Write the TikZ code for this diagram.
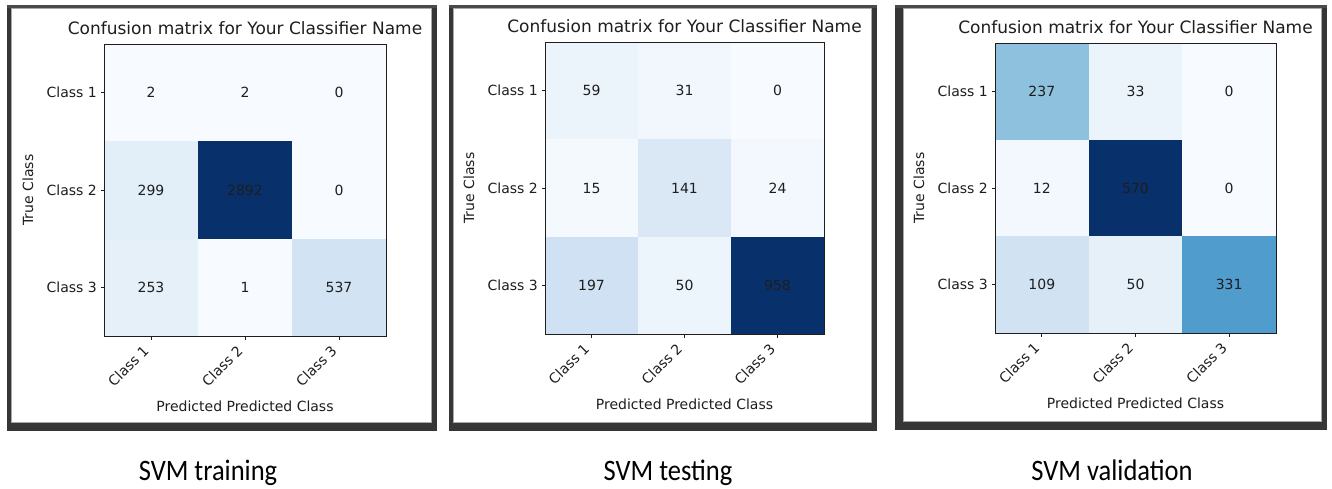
\documentclass[tikz,border=0pt]{standalone}
\usepackage{fontspec}
\setmainfont{DejaVu Sans}
\newfontfamily\capfont{Carlito}

% Blues colour scale used for the cells
\definecolor{bw}{HTML}{F7FBFF}
\definecolor{bdark}{HTML}{08306B}
% training
\definecolor{a11}{HTML}{F7FBFF}\definecolor{a12}{HTML}{F7FBFF}\definecolor{a13}{HTML}{F7FBFF}
\definecolor{a21}{HTML}{E2EEF8}\definecolor{a22}{HTML}{08306B}\definecolor{a23}{HTML}{F7FBFF}
\definecolor{a31}{HTML}{E6F0F9}\definecolor{a32}{HTML}{F7FBFF}\definecolor{a33}{HTML}{D2E3F3}
% testing
\definecolor{b11}{HTML}{EBF3FB}\definecolor{b12}{HTML}{F1F7FD}\definecolor{b13}{HTML}{F7FBFF}
\definecolor{b21}{HTML}{F4F9FE}\definecolor{b22}{HTML}{DAE8F6}\definecolor{b23}{HTML}{F2F8FD}
\definecolor{b31}{HTML}{CFE1F2}\definecolor{b32}{HTML}{ECF4FC}\definecolor{b33}{HTML}{08306B}
% validation
\definecolor{c11}{HTML}{8DC1DD}\definecolor{c12}{HTML}{ECF4FB}\definecolor{c13}{HTML}{F7FBFF}
\definecolor{c21}{HTML}{F3F8FE}\definecolor{c22}{HTML}{08306B}\definecolor{c23}{HTML}{F7FBFF}
\definecolor{c31}{HTML}{D1E3F3}\definecolor{c32}{HTML}{E6F0F9}\definecolor{c33}{HTML}{509CCC}

\definecolor{framedark}{HTML}{363636}
\definecolor{frametop}{HTML}{4A4A4A}
\definecolor{frameline}{HTML}{A8A8A8}
\definecolor{ink}{HTML}{1E1E1E}

% one confusion-matrix panel: #1 prefix, #2 left, #3 top, #4 right, #5 bottom, #6 cells row/col/value
\newcommand\cmpanel[6]{%
  \pgfmathsetmacro\pL{#2}\pgfmathsetmacro\pT{#3}%
  \pgfmathsetmacro\pR{#4}\pgfmathsetmacro\pB{#5}%
  \pgfmathsetmacro\cw{(\pR-\pL)/3}%
  \pgfmathsetmacro\ch{(\pB-\pT)/3}%
  \pgfmathsetmacro\aw{\pR-\pL}%
  \pgfmathsetmacro\ah{\pB-\pT}%
  \pgfmathsetmacro\cx{(\pL+\pR)/2}%
  \pgfmathsetmacro\cy{(\pT+\pB)/2}%
  \foreach \r/\c/\v in {#6} {
    \edef\cellcol{#1\r\c}
    \node[cell, fill=\cellcol, minimum width=\cw pt, minimum height=\ch pt]
      (#1-\r\c) at ({\pL+(\c-0.5)*\cw},{\pT+(\r-0.5)*\ch}) {\v};
  }
  \node[axbox, minimum width=\aw pt, minimum height=\ah pt] (#1-ax) at (\cx,\cy) {};
  \foreach \i in {1,2,3} {
    \draw[tickmark] (#1-\i1.west) -- ++(-3.5,0);
    \node[ticklab, anchor=east] (#1-yl\i) at ([xshift=-7pt]#1-\i1.west) {Class \i};
    \draw[tickmark] (#1-3\i.south) -- ++(0,3.5);
    \node[ticklab, rotate=45, anchor=east] (#1-xl\i)
      at ([xshift=-4.9pt,yshift=-11.9pt]#1-3\i.south) {Class \i};
  }
  \node[titletext, anchor=base] (#1-title) at (\cx,\pT-9.5)
    {Confusion matrix for Your Classifier Name};
  \node[labtext, rotate=90] (#1-ylab) at (\pL-76,\cy) {True Class};
  \node[labtext] (#1-xlab) at (\cx,\pB+70) {Predicted Predicted Class};
}

% picture frame around a panel: outer box, inner white area
\newcommand\panelframe[8]{%
  \fill[framedark] (#1,#2) rectangle (#3,#4);
  \fill[frametop] (#1,#2) rectangle (#3,#6);
  \fill[white] (#5,#6) rectangle (#7,#8);
  \draw[frameline, line width=0.9pt] (#5+0.5,#6+0.5) rectangle (#7-0.5,#8-0.5);
}

\begin{document}
\begin{tikzpicture}[x=1pt,y=-1pt,
  cell/.style={inner sep=0pt, outer sep=0pt, draw=none, text=ink,
    font=\fontsize{14}{16}\selectfont},
  axbox/.style={draw=ink, line width=1pt, fill=none, inner sep=0pt, outer sep=0pt},
  tickmark/.style={draw=ink, line width=1pt},
  ticklab/.style={inner sep=0pt, text=ink, font=\fontsize{14}{16}\selectfont},
  titletext/.style={inner sep=0pt, text=ink, font=\fontsize{17}{19}\selectfont},
  labtext/.style={inner sep=0pt, text=ink, font=\fontsize{14}{16}\selectfont},
  captext/.style={inner sep=0pt, text=black, font=\capfont\fontsize{26.5}{30}\selectfont},
]
\useasboundingbox (0,0) rectangle (1332,488);
\fill[white] (0,0) rectangle (1332,488);

% frames
\panelframe{7}{5}{437}{431}{11}{8}{432}{423}
\panelframe{449}{5}{877}{431}{453}{8}{872}{423}
\panelframe{895}{5}{1327}{430}{903}{8}{1322}{422}

% matrices
\cmpanel{a}{104}{44}{386}{336}{1/1/2,1/2/2,1/3/0,2/1/299,2/2/2892,2/3/0,3/1/253,3/2/1,3/3/537}
\cmpanel{b}{545}{42}{824}{334}{1/1/59,1/2/31,1/3/0,2/1/15,2/2/141,2/3/24,3/1/197,3/2/50,3/3/958}
\cmpanel{c}{995}{43}{1276}{333}{1/1/237,1/2/33,1/3/0,2/1/12,2/2/570,2/3/0,3/1/109,3/2/50,3/3/331}

% captions
\node[captext, anchor=base] (captrain) at (208,480) {\scalebox{1}[1.12]{SVM training}};
\node[captext, anchor=base] (captest) at (668,480) {\scalebox{1}[1.12]{SVM testing}};
\node[captext, anchor=base] (capval) at (1112,480) {\scalebox{1}[1.12]{SVM validation}};
\end{tikzpicture}
\end{document}
